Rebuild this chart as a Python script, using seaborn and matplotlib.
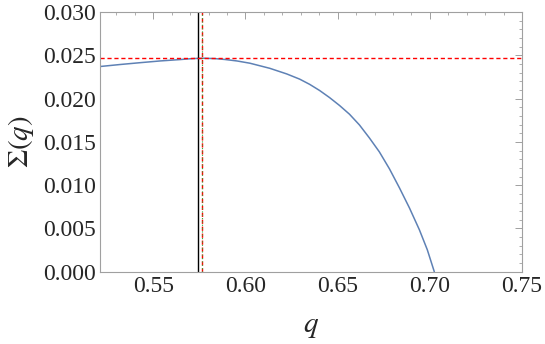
import matplotlib
matplotlib.use("Agg")
import matplotlib.pyplot as plt
import seaborn as sns
import pandas as pd
from matplotlib.ticker import MultipleLocator, FormatStrFormatter

# valores
q_vals = [0.5213, 0.5321, 0.5429, 0.5537, 0.5645, 0.5699, 0.5743, 0.5781,
          0.5835, 0.5889, 0.5954, 0.6024, 0.6132, 0.6224, 0.6294, 0.6348,
          0.6402, 0.6456, 0.6510, 0.6564, 0.6618, 0.6672, 0.6726, 0.6781,
          0.6835, 0.6889, 0.6943, 0.6986, 0.7024]
sigma_vals = [0.02371, 0.02394, 0.02415, 0.02435, 0.02451, 0.02460, 0.02465, 0.02466,
              0.02462, 0.02452, 0.02435, 0.02409, 0.02350, 0.02285, 0.02225, 0.02165,
              0.02094, 0.02012, 0.01921, 0.01820, 0.01696, 0.01546, 0.01385, 0.01188,
              0.00969, 0.00738, 0.00485, 0.00254, 0.0]

q_black = 0.5743
q_red = 0.5765
sigma_max = 0.0247

df = pd.DataFrame({"q": q_vals, "sigma": sigma_vals})

sns.set_style("white")
plt.rcParams["font.family"] = ["Liberation Serif", "DejaVu Serif"]
plt.rcParams["mathtext.fontset"] = "stix"

fig, ax = plt.subplots(figsize=(5.45, 3.44), dpi=100)
fig.subplots_adjust(left=0.184, right=0.958, top=0.965, bottom=0.21)

sns.lineplot(data=df, x="q", y="sigma", ax=ax, color="#5E81B5", lw=1.1)
ax.axvline(q_black, color="black", lw=1.0)
ax.axvline(q_red, color="red", lw=1.0, ls=(0, (3, 2)))
ax.axvline(q_red, color="#33aa33", lw=0.8, ls=(0, (1, 2)))
ax.axhline(sigma_max, color="red", lw=1.0, ls=(0, (3, 2)))

ax.set_xlim(0.5213, 0.75)
ax.set_ylim(0, 0.030)
ax.xaxis.set_major_locator(MultipleLocator(0.05))
ax.xaxis.set_minor_locator(MultipleLocator(0.01))
ax.yaxis.set_major_locator(MultipleLocator(0.005))
ax.yaxis.set_minor_locator(MultipleLocator(0.001))
ax.xaxis.set_major_formatter(FormatStrFormatter("%.2f"))
ax.yaxis.set_major_formatter(FormatStrFormatter("%.3f"))

for s in ax.spines.values():
    s.set_color("#a0a0a0")
    s.set_linewidth(0.8)
ax.tick_params(which="both", direction="in", color="#a0a0a0", labelsize=17,
               top=True, right=True, labeltop=False, labelright=False, pad=3)
ax.tick_params(which="major", length=5, width=0.7)
ax.tick_params(which="minor", length=2.5, width=0.6)

ax.set_xlabel(r"$q$", fontsize=21, labelpad=12)
ax.set_ylabel(r"$\Sigma(q)$", fontsize=21, labelpad=5)

plt.savefig("out.png", dpi=100)
